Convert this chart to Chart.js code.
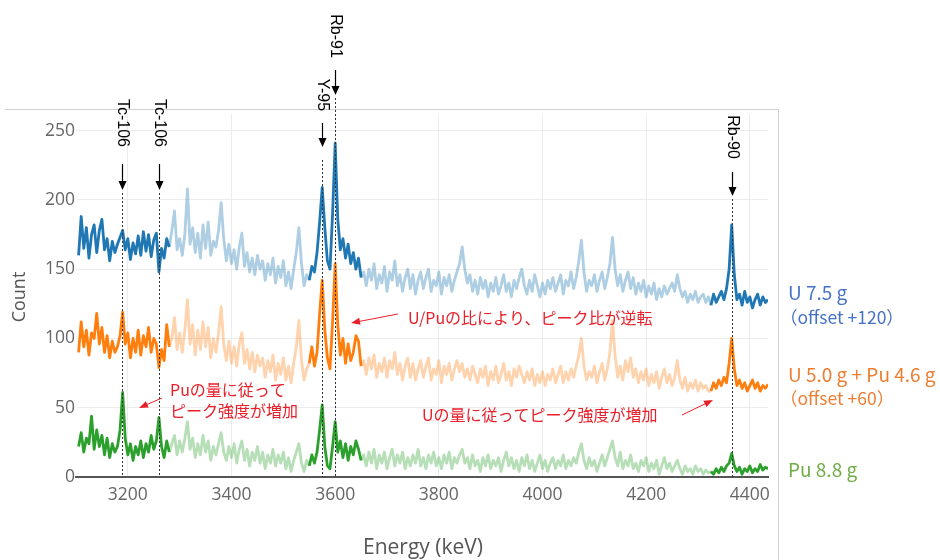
<!DOCTYPE html>
<html>
<head>
<meta charset="utf-8">
<script src="https://cdn.jsdelivr.net/npm/chart.js@4.4.1/dist/chart.umd.min.js"></script>
<style>
  body { margin: 0; background: #fff; }
  canvas { display: block; }
</style>
</head>
<body>
<canvas id="graphique" width="940" height="560"></canvas>
<script>
// energy channels (keV): first channel and step
const energyStart = 3105;
const energyStep = 5;

// raw counts (offset not included)
const countsU = [
  40,68,45,60,38,55,62,42,58,66,
  44,52,36,50,42,48,53,58,44,52,
  37,49,41,54,40,57,43,55,39,51,
  56,28,45,38,52,46,58,72,44,52,
  40,55,88,48,60,42,56,38,62,45,
  64,40,50,46,58,78,52,36,48,34,
  44,30,46,56,32,42,28,38,26,40,
  30,36,22,34,26,38,20,32,24,36,
  18,28,16,30,42,60,34,18,26,22,
  32,28,42,64,89,60,36,30,70,121,
  66,44,52,38,48,34,42,30,38,24,
  28,18,30,22,34,16,26,20,32,14,
  28,22,36,18,26,14,24,30,16,26,
  12,22,28,16,24,30,14,22,18,28,
  12,24,18,26,14,22,28,34,46,30,
  20,26,14,22,12,24,16,22,10,20,
  14,24,12,18,26,14,20,10,22,16,
  24,30,18,12,22,14,26,18,10,20,
  12,22,16,24,14,20,26,12,22,18,
  28,16,24,36,51,28,14,22,18,26,
  14,22,28,16,24,34,53,30,18,26,
  14,22,28,16,24,12,20,14,22,10,
  18,12,20,8,16,10,18,12,16,20,
  14,26,16,10,14,6,12,8,14,6,
  10,12,6,10,4,12,6,10,14,8,
  16,30,62,26,8,12,4,14,6,10,
  2,8,12,4,10,6,8
];
const countsUPu = [
  30,52,34,46,28,44,40,58,36,48,
  30,42,26,38,30,34,42,59,36,44,
  26,40,30,46,28,42,34,48,30,40,
  36,19,32,24,50,34,40,55,32,44,
  30,46,68,36,50,28,46,32,52,34,
  48,26,40,30,44,63,36,24,38,22,
  34,20,36,44,22,32,18,30,16,28,
  20,26,12,24,16,28,10,22,14,26,
  10,20,8,22,34,53,24,10,18,22,
  34,20,30,58,82,46,26,18,52,94,
  50,28,40,22,36,24,30,42,38,20,
  24,14,26,18,28,12,22,16,26,12,
  24,18,30,14,22,10,20,26,12,22,
  10,18,24,12,20,26,10,18,14,24,
  8,20,14,22,10,18,24,16,22,12,
  18,10,20,14,8,18,12,20,6,16,
  10,20,8,14,22,10,16,6,18,12,
  20,14,8,16,10,18,6,14,8,16,
  6,14,10,18,8,14,20,8,16,10,
  18,12,20,28,40,20,10,16,12,20,
  8,16,22,10,18,30,53,28,12,20,
  10,24,16,26,12,18,8,16,10,18,
  6,14,8,16,4,12,18,8,14,6,
  12,24,10,4,12,2,8,4,10,2,
  8,4,6,2,2,8,4,10,6,12,
  8,22,40,18,6,10,4,8,2,6,
  10,4,8,2,6,4,7
];
const countsPu = [
  22,32,18,28,24,44,20,34,22,30,
  16,28,14,24,18,22,34,61,28,16,
  24,12,22,16,26,14,24,18,30,20,
  26,43,22,14,26,18,24,30,16,26,
  18,28,40,20,28,14,24,16,30,18,
  26,12,22,16,24,32,18,12,22,14,
  24,10,20,26,12,20,8,18,12,22,
  10,18,6,16,10,20,8,16,10,18,
  6,14,4,12,18,24,10,4,12,8,
  16,10,18,34,52,22,8,6,22,40,
  18,26,14,24,12,22,16,26,20,12,
  16,8,18,10,20,6,16,10,18,6,
  14,20,8,16,10,18,6,14,8,16,
  10,20,8,14,6,16,10,18,8,14,
  6,16,10,18,6,14,10,16,20,10,
  14,6,16,8,12,4,14,8,16,6,
  12,8,14,4,12,18,8,14,6,12,
  4,14,8,16,6,12,4,10,16,6,
  12,4,10,14,6,12,8,16,6,12,
  8,14,10,18,24,12,6,14,8,12,
  4,10,16,8,14,20,26,14,8,18,
  6,12,8,16,6,10,4,12,8,14,
  4,10,6,12,2,8,14,6,10,4,
  8,12,6,2,8,4,6,2,8,4,
  6,2,5,3,4,2,6,3,7,4,
  8,10,17,8,4,7,2,6,4,8,
  3,6,4,9,5,7,6
];

// series
const seriesNames = ['U 7.5 g', 'U 5.0 g + Pu 4.6 g', 'Pu 8.8 g'];
const seriesOffsets = [120, 60, 0];
const seriesCounts = [countsU, countsUPu, countsPu];

// energy windows drawn in full colour
const darkRanges = [[3100, 3282], [3547, 3652], [4322, 4440]];

// axis ticks
const xTicks = [3200, 3400, 3600, 3800, 4000, 4200, 4400];
const yTicks = [0, 50, 100, 150, 200, 250];

// peaks marked on the plot
const peakNames = ['Tc-106', 'Tc-106', 'Y-95', 'Rb-91', 'Rb-90'];
const peakEnergies = [3189, 3260, 3575, 3599, 4365];

// ---- styles / layout ----
const darkColors = ['#1f77b4', '#ff7f0e', '#2ca02c'];
const lightColors = ['rgba(31,119,180,0.36)', 'rgba(255,127,14,0.34)', 'rgba(44,160,44,0.34)'];
const labelColors = ['#4472c4', '#ed7d31', '#70ad47'];
// label centre y, arrow top, arrow bottom, dotted line top (pixels)
const peakLayout = [
  [123, 164, 190, 193],
  [123, 164, 190, 193],
  [95, 123, 147, 160],
  [36, 70, 95, 98],
  [137, 172, 196, 199]
];

function isDark(e) {
  return darkRanges.some(r => e >= r[0] && e <= r[1]);
}

// build datasets
var datasets = [];
for (let s = 0; s < seriesCounts.length; s++) {
  let pts = seriesCounts[s].map((c, i) => ({ x: energyStart + i * energyStep, y: c + seriesOffsets[s] }));
  datasets.push({
    label: seriesNames[s],
    data: pts,
    borderColor: darkColors[s],
    borderWidth: 2.8,
    borderJoinStyle: 'round',
    pointRadius: 0,
    tension: 0,
    segment: {
      borderColor: ctx => (isDark(ctx.p0.parsed.x) && isDark(ctx.p1.parsed.x)) ? darkColors[s] : lightColors[s]
    }
  });
}

function arrow(ctx, x1, y1, x2, y2, color, lw, hl, hw) {
  let a = Math.atan2(y2 - y1, x2 - x1);
  ctx.save();
  ctx.strokeStyle = color;
  ctx.fillStyle = color;
  ctx.lineWidth = lw;
  ctx.beginPath();
  ctx.moveTo(x1, y1);
  ctx.lineTo(x2 - Math.cos(a) * hl * 0.8, y2 - Math.sin(a) * hl * 0.8);
  ctx.stroke();
  ctx.beginPath();
  ctx.moveTo(x2, y2);
  ctx.lineTo(x2 - Math.cos(a) * hl + Math.sin(a) * hw / 2, y2 - Math.sin(a) * hl - Math.cos(a) * hw / 2);
  ctx.lineTo(x2 - Math.cos(a) * hl - Math.sin(a) * hw / 2, y2 - Math.sin(a) * hl + Math.cos(a) * hw / 2);
  ctx.closePath();
  ctx.fill();
  ctx.restore();
}

// annotations, titles and frame
const notes = {
  id: 'notes',
  afterDraw(chart) {
    const ctx = chart.ctx;
    const xs = chart.scales.x;
    const bottom = chart.chartArea.bottom;

    ctx.save();
    // frame
    ctx.strokeStyle = '#d0d0d0';
    ctx.lineWidth = 1;
    ctx.beginPath();
    ctx.moveTo(5, 109.5);
    ctx.lineTo(778.5, 109.5);
    ctx.lineTo(778.5, 560);
    ctx.stroke();

    // axis titles
    ctx.fillStyle = '#555';
    ctx.textAlign = 'center';
    ctx.textBaseline = 'middle';
    ctx.font = '21px "Open Sans"';
    ctx.fillText('Energy (keV)', 423, 548);
    ctx.font = '18px "Open Sans"';
    ctx.save();
    ctx.translate(20, 297);
    ctx.rotate(-Math.PI / 2);
    ctx.fillText('Count', 0, 0);
    ctx.restore();

    // peak markers
    for (let i = 0; i < peakNames.length; i++) {
      let px = Math.round(xs.getPixelForValue(peakEnergies[i])) + 0.5;
      let L = peakLayout[i];
      ctx.save();
      ctx.strokeStyle = '#333';
      ctx.lineWidth = 1;
      ctx.setLineDash([2, 2]);
      ctx.beginPath();
      ctx.moveTo(px, L[3]);
      ctx.lineTo(px, bottom);
      ctx.stroke();
      ctx.restore();
      arrow(ctx, px, L[1], px, L[2], '#000', 1.2, 9, 8);
      ctx.save();
      ctx.fillStyle = '#000';
      ctx.font = '16px "Liberation Sans"';
      ctx.textAlign = 'center';
      ctx.textBaseline = 'middle';
      ctx.translate(px, L[0]);
      ctx.rotate(Math.PI / 2);
      ctx.fillText(peakNames[i], 0, 0);
      ctx.restore();
    }

    // red comments
    const red = '#e8202a';
    ctx.fillStyle = red;
    ctx.font = '16px "Noto Sans CJK JP"';
    ctx.textAlign = 'left';
    ctx.textBaseline = 'middle';
    ctx.fillText('Puの量に従って', 170, 390);
    ctx.fillText('ピーク強度が増加', 170, 411);
    ctx.fillText('U/Puの比により、ピーク比が逆転', 408, 318);
    ctx.fillText('Uの量に従ってピーク強度が増加', 422, 415);
    arrow(ctx, 162, 398, 139, 408, red, 1, 9, 7);
    arrow(ctx, 398, 314, 351, 323, red, 1, 9, 7);
    arrow(ctx, 682, 415, 713, 400, red, 1, 9, 7);

    // series labels on the right
    const big = '19px "Noto Sans CJK JP"';
    const small = '17.5px "Noto Sans CJK JP"';
    ctx.fillStyle = labelColors[0];
    ctx.font = big;
    ctx.fillText(seriesNames[0], 788, 293);
    ctx.font = small;
    ctx.fillText('（offset +' + seriesOffsets[0] + '）', 780, 317);
    ctx.fillStyle = labelColors[1];
    ctx.font = big;
    ctx.fillText(seriesNames[1], 788, 375);
    ctx.font = small;
    ctx.fillText('（offset +' + seriesOffsets[1] + '）', 780, 398);
    ctx.fillStyle = labelColors[2];
    ctx.font = big;
    ctx.fillText(seriesNames[2], 788, 470);
    ctx.restore();
  }
};

var graphique = new Chart(document.getElementById('graphique').getContext('2d'), {
  type: 'line',
  data: { datasets: datasets },
  options: {
    responsive: false,
    animation: false,
    layout: { padding: { top: 114, right: 172, bottom: 0, left: 0 } },
    plugins: { legend: { display: false }, tooltip: { enabled: false } },
    scales: {
      x: {
        type: 'linear',
        min: 3100,
        max: 4435,
        afterFit: s => { s.height = 83; },
        afterBuildTicks: s => { s.ticks = xTicks.map(v => ({ value: v })); },
        grid: { color: '#ececec', drawTicks: false },
        border: { display: true, color: '#555', width: 2 },
        ticks: { color: '#666', font: { family: 'Open Sans', size: 17.5 }, padding: 8, maxRotation: 0,
                 callback: v => String(v) }
      },
      y: {
        min: 0,
        max: 262,
        afterFit: s => { s.width = 76; },
        afterBuildTicks: s => { s.ticks = yTicks.map(v => ({ value: v })); },
        grid: { color: '#ececec', drawTicks: false },
        border: { display: false },
        ticks: { color: '#666', font: { family: 'Open Sans', size: 17.5 }, padding: 1 }
      }
    }
  },
  plugins: [notes]
});
</script>
</body>
</html>
